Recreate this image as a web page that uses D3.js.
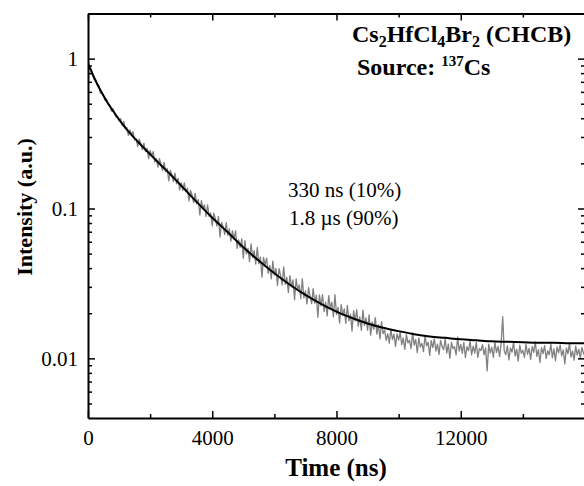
<!DOCTYPE html>
<html>
<head>
<meta charset="utf-8">
<title>Decay curve</title>
<script src="https://d3js.org/d3.v7.min.js"></script>
<style>
  body { margin: 0; background: #fff; }
  svg text { font-family: "Liberation Serif", "Times New Roman", serif; }
</style>
</head>
<body>
<div id="chart"></div>
<script>
// measured trace, one value every 50 ns
const timeStep = 50;
const counts = [
  0.974,0.865,0.856,0.786,0.723,0.720,0.665,0.664,0.587,0.598,0.565,0.526,0.536,0.494,0.491,0.446,0.464,0.435,0.407,0.412,0.386,
  0.398,0.358,0.381,0.342,0.347,0.308,0.334,0.310,0.326,0.286,0.291,0.259,0.290,0.270,0.247,0.273,0.240,0.252,0.215,0.244,
  0.2245,0.240,0.204,0.215,0.189,0.215,0.1975,0.179,0.203,0.176,0.1854,0.153,0.1794,0.1673,0.1512,0.172,0.1462,0.1587,0.1328,0.1487,
  0.1323,0.1481,0.1297,0.1366,0.1125,0.132,0.1229,0.1093,0.1262,0.1073,0.1148,0.0904,0.1128,0.1004,0.1058,0.0886,0.1056,0.0884,0.0932,0.0767,
  0.0931,0.0856,0.0763,0.0884,0.0646,0.0807,0.0753,0.0672,0.0803,0.0663,0.0732,0.0605,0.071,0.0624,0.0709,0.0542,0.0618,0.0551,0.0628,0.0466,
  0.0611,0.0497,0.0542,0.0442,0.058,0.0472,0.0523,0.0426,0.0549,0.0428,
  0.0474,0.0348,0.0471,0.0421,0.0467,0.0369,0.0417,0.0339,0.0446,0.0359,
  0.0399,0.0306,0.0397,0.0356,0.0309,0.0407,0.0312,0.0347,0.0275,0.0356,
  0.03,0.0334,0.0246,0.0339,0.0287,0.0309,0.025,0.0339,0.0253,0.0282,
  0.0231,0.0296,0.0258,0.0232,0.0292,0.0233,0.0264,0.0188,0.0265,0.0224,
  0.0266,0.0206,0.0237,0.0192,0.0262,0.0215,0.0237,0.0189,0.0266,0.0196,
  0.0219,0.0172,0.0228,0.0194,0.0214,0.0171,0.0226,0.0178,0.0197,0.0152,
  0.0208,0.0178,0.0211,0.0164,0.0189,0.0154,0.021,0.0166,0.0186,0.0154,
  0.0195,0.0143,0.0175,0.0156,0.0187,0.0145,0.0168,0.0135,0.0176,0.0146,
  0.01544,0.01318,0.01459,0.01265,0.0156,0.01332,0.01451,0.01201,0.01459,0.01324,
  0.0149,0.01233,0.01367,0.01149,0.0144,0.01268,0.01321,0.01162,0.01479,0.01225,
  0.01338,0.01093,0.0137,0.0119,0.0126,0.0111,0.01415,0.0121,0.01281,0.01046,
  0.01313,0.01178,0.01349,0.0112,0.01244,0.01064,0.01317,0.01198,0.01142,0.01349,
  0.01085,0.01244,0.01002,0.01277,0.01163,0.01195,0.01055,0.01388,0.01117,0.01241,
  0.0108,0.01276,0.01013,0.01196,0.01124,0.01308,0.01053,0.01207,0.01083,0.0128,
  0.01015,0.01163,0.01127,0.01233,0.01057,0.01175,0.00824,0.01245,0.01083,0.01186,
  0.01016,0.01279,0.01096,0.012,0.01028,0.01255,0.01898,0.01125,0.01057,0.01213,
  0.00978,0.01173,0.01102,0.01282,0.01037,0.01153,0.00958,0.01224,0.01082,0.01132,
  0.01016,0.01242,0.01065,0.01166,0.00984,0.012,0.01096,0.01295,0.0103,0.01145,
  0.00938,0.0118,0.01076,0.01216,0.00995,0.01124,0.01057,0.01252,0.01008,0.01158,
  0.00964,0.01193,0.01089,0.0123,0.01038,0.01138,0.00917,0.01172,0.0107,0.01265,
  0.01021,0.01117,0.00973,0.01206,0.01051,0.01151,0.01002,0.01185,0.01082,0.01032
];

// fitted curve (black)
const fitTime = [0,100,200,300,400,500,600,800,1000,1200,1400,1600,1800,2000,2200,2400,2600,2800,3000,
  3500,4000,4500,5000,5500,6000,6500,7000,7500,8000,8500,9000,9500,10000,10500,11000,11500,12000,
  12500,13000,13500,14000,14500,15000,15500,16000];
const fitValue = [0.93,0.83,0.745,0.675,0.615,0.565,0.52,0.45,0.392,0.347,0.31,0.28,0.253,0.23,0.209,0.19,0.173,0.157,0.142,
  0.1106,0.0868,0.0694,0.0551,0.0448,0.037,0.031,0.0265,0.0231,0.0205,0.0186,0.0171,0.016,0.0152,0.0145,0.014,0.0137,0.0134,
  0.0132,0.013,0.0129,0.0128,0.0127,0.0127,0.0126,0.0126];

// ticks
const xMajor = [0, 4000, 8000, 12000, 16000];
const xMinor = [2000, 6000, 10000, 14000];
const yMajor = [0.01, 0.1, 1];
const yMinor = [0.005,0.006,0.007,0.008,0.009,0.02,0.03,0.04,0.05,0.06,0.07,0.08,0.09,
  0.2,0.3,0.4,0.5,0.6,0.7,0.8,0.9,2];

function plotDecay() {
  let margin = {top: 13.5, left: 88};
  let w = 497, h = 404.5;

  let svg = d3.select("#chart").append("svg")
      .attr("width", 584).attr("height", 486);
  let g = svg.append("g")
      .attr("transform", "translate(" + margin.left + "," + margin.top + ")");

  let x = d3.scaleLinear().domain([0, 16000]).range([0, w]);
  let y = d3.scaleLog().domain([0.004, 2]).range([h, 0]);

  g.append("clipPath").attr("id", "clip")
    .append("rect").attr("width", w).attr("height", h);

  // measured data
  let dataLine = d3.line()
      .x((d, i) => x(i * timeStep))
      .y(d => y(d));
  g.append("path")
      .datum(counts)
      .attr("clip-path", "url(#clip)")
      .attr("fill", "none")
      .attr("stroke", "#808080")
      .attr("stroke-width", 1.3)
      .attr("stroke-linejoin", "round")
      .attr("d", dataLine);

  // fit
  let fitLine = d3.line()
      .x(d => x(d[0]))
      .y(d => y(d[1]))
      .curve(d3.curveMonotoneX);
  g.append("path")
      .datum(fitTime.map((t, i) => [t, fitValue[i]]))
      .attr("clip-path", "url(#clip)")
      .attr("fill", "none")
      .attr("stroke", "#000")
      .attr("stroke-width", 2)
      .attr("d", fitLine);

  // axes: ticks pointing inward on all four sides
  function addAxis(axis, tx, ty, major) {
    let a = g.append("g")
        .attr("transform", "translate(" + tx + "," + ty + ")")
        .call(axis);
    a.attr("font-family", null).attr("font-size", null);
    a.selectAll(".tick line").attr("stroke", "#000").attr("stroke-width", 1.5);
    a.selectAll("text").attr("font-size", "21px").attr("fill", "#000");
    if (major) a.select(".domain").attr("stroke", "#000").attr("stroke-width", 2);
    else a.select(".domain").remove();
  }
  let fmtX = d => d < 16000 ? d : "";
  let fmtY = d => String(d);

  addAxis(d3.axisBottom(x).tickValues(xMajor).tickSize(-7).tickSizeOuter(0).tickPadding(12).tickFormat(fmtX), 0, h, true);
  addAxis(d3.axisBottom(x).tickValues(xMinor).tickSize(-4).tickFormat(""), 0, h, false);
  addAxis(d3.axisTop(x).tickValues(xMajor).tickSize(-7).tickSizeOuter(0).tickFormat(""), 0, 0, true);
  addAxis(d3.axisTop(x).tickValues(xMinor).tickSize(-4).tickFormat(""), 0, 0, false);
  addAxis(d3.axisLeft(y).tickValues(yMajor).tickSize(-7).tickSizeOuter(0).tickPadding(10).tickFormat(fmtY), 0, 0, true);
  addAxis(d3.axisLeft(y).tickValues(yMinor).tickSize(-4).tickFormat(""), 0, 0, false);
  addAxis(d3.axisRight(y).tickValues(yMajor).tickSize(-7).tickSizeOuter(0).tickFormat(""), w, 0, true);
  addAxis(d3.axisRight(y).tickValues(yMinor).tickSize(-4).tickFormat(""), w, 0, false);

  // axis titles
  svg.append("text")
      .attr("x", 336).attr("y", 476)
      .attr("text-anchor", "middle")
      .attr("font-size", "25px").attr("font-weight", "bold")
      .text("Time (ns)");
  svg.append("text")
      .attr("transform", "translate(32,207) rotate(-90)")
      .attr("text-anchor", "middle")
      .attr("font-size", "22px").attr("font-weight", "bold")
      .text("Intensity (a.u.)");

  // sample label
  let t1 = svg.append("text")
      .attr("x", 352).attr("y", 47)
      .attr("font-size", "24px").attr("font-weight", "bold");
  [["Cs", 0], ["2", 1], ["HfCl", 0], ["4", 1], ["Br", 0], ["2", 1], [" (CHCB)", 0]].forEach(p => {
    t1.append("tspan")
      .attr("dy", p[1] ? 5 : (t1.selectAll("tspan").size() ? -5 : 0))
      .attr("font-size", p[1] ? "16px" : "24px")
      .text(p[0]);
  });
  let t2 = svg.append("text")
      .attr("x", 357).attr("y", 75)
      .attr("font-size", "24px").attr("font-weight", "bold");
  t2.append("tspan").text("Source: ");
  t2.append("tspan").attr("dy", -9).attr("font-size", "15px").text("137");
  t2.append("tspan").attr("dy", 9).text("Cs");

  // lifetimes
  svg.append("text").attr("x", 288).attr("y", 197)
      .attr("font-size", "21px").text("330 ns (10%)");
  svg.append("text").attr("x", 289).attr("y", 225)
      .attr("font-size", "21px").text("1.8 \u00b5s (90%)");
}

plotDecay();
</script>
</body>
</html>
